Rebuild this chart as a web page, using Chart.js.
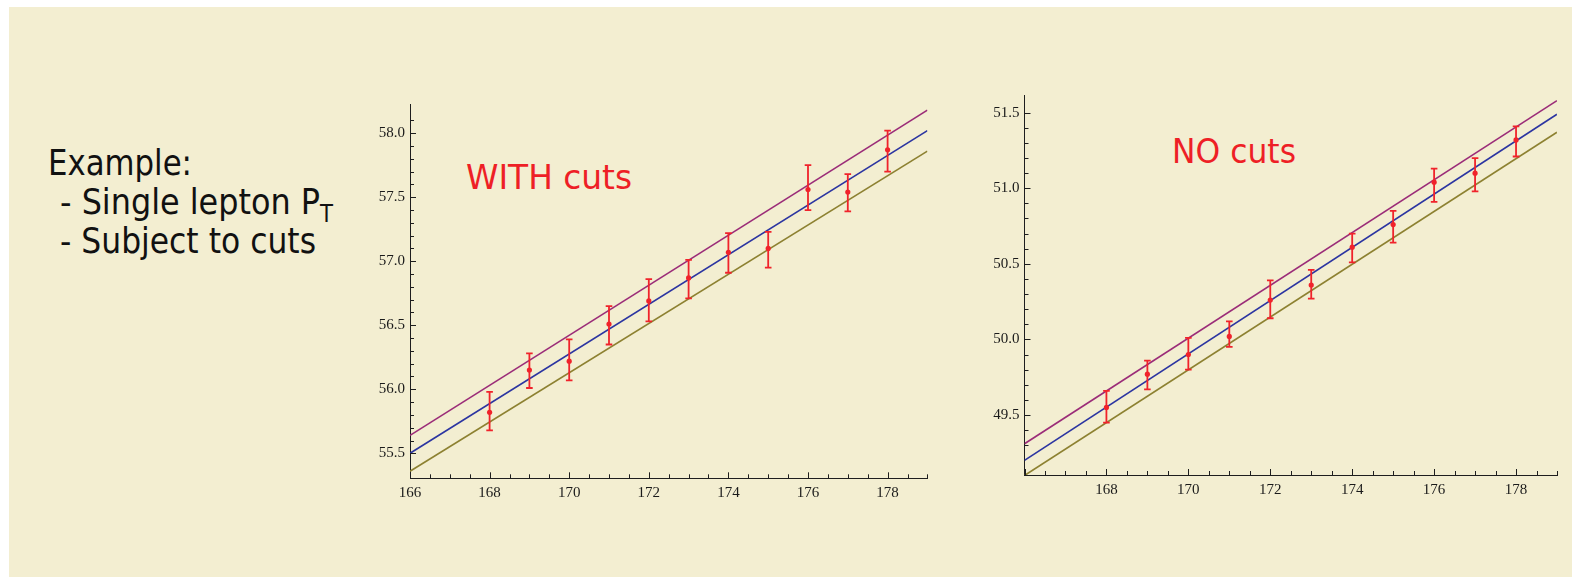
<!DOCTYPE html>
<html>
<head>
<meta charset="utf-8">
<script src="https://cdn.jsdelivr.net/npm/chart.js@4.4.1/dist/chart.umd.min.js"></script>
<style>
body { margin: 0; width: 1572px; height: 577px; background: #fff; overflow: hidden; position: relative; }
.slide { position: absolute; left: 9px; top: 7px; right: 0; bottom: 0; background: #f3eed1; }
.txt { position: absolute; font-family: "DejaVu Sans"; white-space: nowrap; transform-origin: 0 0; line-height: 1; color: #111; }
.red { color: #ee1f26; }
.sub { font-size: 24px; position: relative; top: 8px; }
canvas { position: absolute; }
</style>
</head>
<body>
<div class="slide"></div>

<div class="txt" style="left:48px; top:144.5px; font-size:36px" data-w="144">Example:</div>
<div class="txt" style="left:60px; top:183.5px; font-size:36px" data-w="273">- Single lepton P<span class="sub">T</span></div>
<div class="txt" style="left:60px; top:222.5px; font-size:36px" data-w="256">- Subject to cuts</div>
<div class="txt red" style="left:466px; top:160px; font-size:34px" data-w="166">WITH cuts</div>
<div class="txt red" style="left:1172px; top:134px; font-size:34px" data-w="124">NO cuts</div>

<canvas id="withCuts" width="580" height="430" style="left:360px; top:90px"></canvas>
<canvas id="noCuts" width="612" height="430" style="left:960px; top:80px"></canvas>

<script>
// measured points (x = mass, y = mean with error bar low/high)
const massPoints = [168, 169, 170, 171, 172, 173, 174, 175, 176, 177, 178];

const withCutsMean = [55.82, 56.15, 56.22, 56.51, 56.69, 56.87, 57.07, 57.10, 57.56, 57.54, 57.87];
const withCutsLow  = [55.68, 56.01, 56.07, 56.35, 56.53, 56.71, 56.91, 56.95, 57.40, 57.39, 57.70];
const withCutsHigh = [55.98, 56.28, 56.39, 56.65, 56.86, 57.01, 57.22, 57.23, 57.75, 57.68, 58.02];

const noCutsMean = [49.55, 49.77, 49.90, 50.02, 50.26, 50.36, 50.61, 50.76, 51.04, 51.10, 51.32];
const noCutsLow  = [49.45, 49.67, 49.80, 49.95, 50.14, 50.27, 50.51, 50.64, 50.91, 50.98, 51.21];
const noCutsHigh = [49.66, 49.86, 50.01, 50.12, 50.39, 50.46, 50.70, 50.85, 51.13, 51.20, 51.41];

// fit lines, value at each end of the x range
const fitRange = [166, 179];
const withCutsFitUpper   = [55.64, 58.18];
const withCutsFitCentral = [55.50, 58.02];
const withCutsFitLower   = [55.36, 57.86];
const noCutsFitUpper   = [49.31, 51.58];
const noCutsFitCentral = [49.20, 51.49];
const noCutsFitLower   = [49.10, 51.37];

// axes
const withCutsYRange = [55.305, 58.228];
const noCutsYRange = [49.103, 51.617];
const withCutsXLabels = [166, 168, 170, 172, 174, 176, 178];
const noCutsXLabels = [168, 170, 172, 174, 176, 178];
const withCutsYLabels = ['55.5', '56.0', '56.5', '57.0', '57.5', '58.0'];
const noCutsYLabels = ['49.5', '50.0', '50.5', '51.0', '51.5'];

// fit texts to width of original
document.querySelectorAll('.txt').forEach(function(el) {
	var w = el.getBoundingClientRect().width;
	el.style.transform = 'scaleX(' + (el.dataset.w / w) + ')';
});

const axisColor = '#1e1e1e';
const errColor = '#f0232b';

function near(v, step) {
	return Math.abs(v / step - Math.round(v / step)) < 1e-6;
}

// error bars + inward ticks like mathematica
const mmaPlugin = {
	id: 'mma',
	afterDatasetsDraw(chart, args, opts) {
		const ctx = chart.ctx, xs = chart.scales.x, ys = chart.scales.y;
		ctx.save();
		ctx.strokeStyle = errColor;
		ctx.lineWidth = 1.8;
		opts.x.forEach(function(xv, i) {
			const px = xs.getPixelForValue(xv);
			const p1 = ys.getPixelForValue(opts.low[i]);
			const p2 = ys.getPixelForValue(opts.high[i]);
			ctx.beginPath();
			ctx.moveTo(px, p1); ctx.lineTo(px, p2);
			ctx.moveTo(px - 3.3, p1); ctx.lineTo(px + 3.3, p1);
			ctx.moveTo(px - 3.3, p2); ctx.lineTo(px + 3.3, p2);
			ctx.stroke();
		});
		ctx.restore();
	},
	afterDraw(chart) {
		const ctx = chart.ctx, xs = chart.scales.x, ys = chart.scales.y;
		const area = chart.chartArea;
		ctx.save();
		ctx.strokeStyle = axisColor;
		ctx.lineWidth = 1;
		ctx.beginPath();
		xs.ticks.forEach(function(t) {
			if (!near(t.value, 0.5)) return;
			const px = Math.round(xs.getPixelForValue(t.value)) + 0.5;
			const len = near(t.value, 2) ? 6 : 4;
			ctx.moveTo(px, area.bottom);
			ctx.lineTo(px, area.bottom - len);
		});
		ys.ticks.forEach(function(t) {
			if (!near(t.value, 0.1)) return;
			const py = Math.round(ys.getPixelForValue(t.value)) + 0.5;
			const len = near(t.value, 0.5) ? 6 : 4;
			ctx.moveTo(area.left, py);
			ctx.lineTo(area.left + len, py);
		});
		ctx.stroke();
		ctx.restore();
	}
};

function fitLine(vals, color) {
	return {
		type: 'line',
		data: [{x: fitRange[0], y: vals[0]}, {x: fitRange[1], y: vals[1]}],
		borderColor: color,
		borderWidth: 1.7,
		pointRadius: 0,
		order: 1
	};
}

function makeChart(id, d) {
	const pts = massPoints.map(function(m, i) { return {x: m, y: d.mean[i]}; });
	return new Chart(document.getElementById(id), {
		type: 'scatter',
		data: {
			datasets: [
				{
					data: pts,
					pointRadius: 2.6,
					pointBackgroundColor: errColor,
					pointBorderWidth: 0,
					order: 0
				},
				fitLine(d.upper, '#9b2c78'),
				fitLine(d.central, '#2c35a1'),
				fitLine(d.lower, '#8d8131')
			]
		},
		options: {
			responsive: false,
			animation: false,
			layout: { padding: d.padding },
			plugins: {
				legend: { display: false },
				tooltip: { enabled: false },
				mma: { x: massPoints, low: d.low, high: d.high }
			},
			scales: {
				x: {
					type: 'linear',
					min: fitRange[0],
					max: fitRange[1],
					afterFit: function(s) { s.height = 30; },
					grid: { display: false, drawTicks: false },
					border: { color: axisColor, width: 1 },
					ticks: {
						stepSize: 0.5,
						autoSkip: false,
						maxRotation: 0,
						padding: 6,
						color: '#1a1a1a',
						font: { family: 'Liberation Serif', size: 15 },
						callback: function(v) {
							return d.xLabels.some(function(l) { return Math.abs(l - v) < 1e-6; }) ? String(Math.round(v)) : '';
						}
					}
				},
				y: {
					min: d.yRange[0],
					max: d.yRange[1],
					afterFit: function(s) { s.width = d.yWidth; },
					grid: { display: false, drawTicks: false },
					border: { color: axisColor, width: 1 },
					ticks: {
						stepSize: 0.1,
						autoSkip: false,
						padding: 5,
						color: '#1a1a1a',
						font: { family: 'Liberation Serif', size: 15 },
						callback: function(v) {
							const s = Number(v).toFixed(1);
							return near(v, 0.5) && d.yLabels.indexOf(s) >= 0 ? s : '';
						}
					}
				}
			}
		},
		plugins: [mmaPlugin]
	});
}

makeChart('withCuts', {
	mean: withCutsMean, low: withCutsLow, high: withCutsHigh,
	upper: withCutsFitUpper, central: withCutsFitCentral, lower: withCutsFitLower,
	yRange: withCutsYRange, xLabels: withCutsXLabels, yLabels: withCutsYLabels,
	yWidth: 50,
	padding: { left: 0, right: 12.6, top: 12.7, bottom: 11.7 }
});

makeChart('noCuts', {
	mean: noCutsMean, low: noCutsLow, high: noCutsHigh,
	upper: noCutsFitUpper, central: noCutsFitCentral, lower: noCutsFitLower,
	yRange: noCutsYRange, xLabels: noCutsXLabels, yLabels: noCutsYLabels,
	yWidth: 64.5,
	padding: { left: 0, right: 15, top: 15, bottom: 5 }
});
</script>
</body>
</html>
